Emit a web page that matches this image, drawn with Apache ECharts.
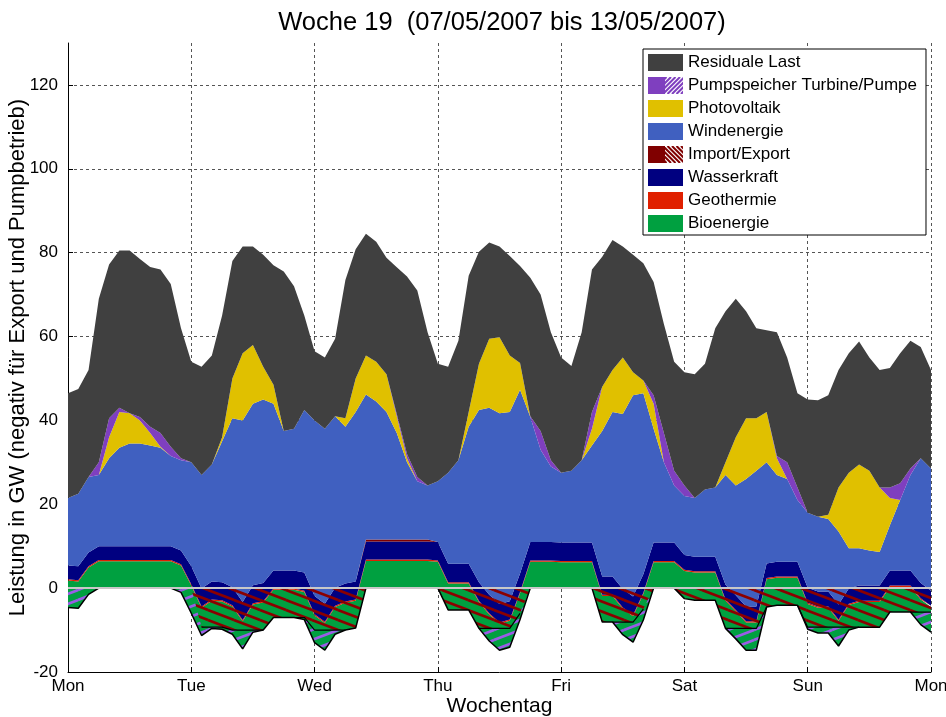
<!DOCTYPE html>
<html><head><meta charset="utf-8">
<script src="https://cdn.jsdelivr.net/npm/echarts@6/dist/echarts.min.js"></script>
<style>html,body{margin:0;padding:0;background:#fff}#c{width:946px;height:717px}</style>
</head><body><div id="c"></div>
<script>
const titleText = 'Woche 19  (07/05/2007 bis 13/05/2007)';
const dayLabels = ['Mon','Tue','Wed','Thu','Fri','Sat','Sun','Mon'];
const hours = [0,2,4,6,8,10,12,14,16,18,20,22,
  24,26,28,30,32,34,36,38,40,42,44,46,
  48,50,52,54,56,58,60,62,64,66,68,70,
  72,74,76,78,80,82,84,86,88,90,92,94,
  96,98,100,102,104,106,108,110,112,114,116,118,
  120,122,124,126,128,130,132,134,136,138,140,142,
  144,146,148,150,152,154,156,158,160,162,164,166,168];

const bioenergie = [6.4,6.4,6.4,6.4,6.4,6.4,6.4,6.4,6.4,6.4,6.4,6.4,
  6.6,6.6,6.6,6.6,6.6,6.6,6.6,6.6,6.6,6.6,6.6,6.6,
  6.5,6.5,6.5,6.5,6.5,6.5,6.5,6.5,6.5,6.5,6.5,6.5,
  6.3,6.3,6.3,6.3,6.3,6.3,6.3,6.3,6.3,6.3,6.3,6.3,
  6.2,6.2,6.2,6.2,6.2,6.2,6.2,6.2,6.2,6.2,6.2,6.2,
  6.6,6.6,6.6,6.6,6.6,6.6,6.6,6.6,6.6,6.6,6.6,6.6,
  6.0,6.0,6.0,6.0,6.0,6.0,6.0,6.0,6.0,6.0,6.0,6.0,6.0];
const geothermie = [0.3,0.3,0.3,0.3,0.3,0.3,0.3,0.3,0.3,0.3,0.3,0.3,
  0.3,0.3,0.3,0.3,0.3,0.3,0.3,0.3,0.3,0.3,0.3,0.3,
  0.3,0.3,0.3,0.3,0.3,0.3,0.3,0.3,0.3,0.3,0.3,0.3,
  0.3,0.3,0.3,0.3,0.3,0.3,0.3,0.3,0.3,0.3,0.3,0.3,
  0.3,0.3,0.3,0.3,0.3,0.3,0.3,0.3,0.3,0.3,0.3,0.3,
  0.3,0.3,0.3,0.3,0.3,0.3,0.3,0.3,0.3,0.3,0.3,0.3,
  0.3,0.3,0.3,0.3,0.3,0.3,0.3,0.3,0.3,0.3,0.3,0.3,0.3];
const wasserkraft = [3.3,3.3,3.3,3.3,3.3,3.3,3.3,3.3,3.3,3.3,3.3,3.3,
  4.3,4.3,4.3,4.3,4.3,4.3,4.3,4.3,4.3,4.3,4.3,4.3,
  4.3,4.3,4.3,4.3,4.3,4.3,4.3,4.3,4.3,4.3,4.3,4.3,
  4.4,4.4,4.4,4.4,4.4,4.4,4.4,4.4,4.4,4.4,4.4,4.4,
  4.4,4.4,4.4,4.4,4.4,4.4,4.4,4.4,4.4,4.4,4.4,4.4,
  3.5,3.5,3.5,3.5,3.5,3.5,3.5,3.5,3.5,3.5,3.5,3.5,
  3.6,3.6,3.6,3.6,3.6,3.6,3.6,3.6,3.6,3.6,3.6,3.6,3.6];
const importPos = [0,0,0,0,0,0,0,0,0,0,0,0,
  0,0,0,0,0,0,0,0,0,0,0,0,
  0,0,0,0,0,0.5,0.5,0.5,0.5,0.5,0.5,0.5,
  0,0,0,0,0,0,0,0,0,0,0,0,
  0,0,0,0,0,0,0,0,0,0,0,0,
  0,0,0,0,0,0,0,0,0,0,0,0,
  0,0,0,0,0,0,0,0,0,0,0,0,0];
const windenergie = [16.1,17.3,18.0,17.0,21.0,23.5,24.5,24.5,24.0,23.5,21.5,21.5,
  24.8,27.1,27.9,33.6,40.3,43.3,43.3,43.8,39.8,33.3,33.8,38.8,
  41.9,41.7,40.9,37.4,40.4,34.6,32.9,30.4,25.4,18.4,13.9,12.9,
  14.5,21.7,24.7,32.7,41.1,44.6,45.5,45.1,43.8,29.8,22.0,18.0,
  16.6,17.1,19.6,23.1,34.7,39.2,41.7,48.0,43.2,27.1,19.1,13.6,
  14.1,14.0,16.0,16.5,26.2,26.2,30.4,32.4,24.1,20.7,19.7,14.7,
  17.9,17.8,17.3,17.4,9.6,8.9,8.4,8.0,10.8,16.8,22.8,29.8,29.1];
const photovoltaik = [0,0,0,0,5,8.5,7.2,5.5,3,0.2,0,0,
  0,0,0,1,9.5,16,14,7.8,4.5,0,0,0,
  0,0,0,2,8,9.3,9.5,9,4,1,0,0,
  0,0,0,3.5,11,16.5,18.1,13.5,6.4,0,0,0,
  0,0,0,4,10.5,10,13.5,5.5,3,6,0,0,
  0,0,0,0,3,11.5,14.5,12.5,12,4,0,0,
  0,0,1,10.5,18,20,19,15.4,6.5,0,0,0,0];
const pumpTurbine = [0,0,0,3,4.5,1,0,0.8,1.5,3.3,2.2,0.5,
  0,0,0,0,0,0,0,0,0,0,0,0,
  0,0,0,0,0,0,0,0,0.5,1,1,0,
  0,0,0,0,0,0,0,0,0,0.2,4.5,1.5,
  0,0,0,4,0,0,0,0,0,2,7,3.5,
  2.5,0,0,0,0,0,0,0,0,0.5,4,3,
  0,0,0,0,0,0,0,0,2.5,4,1.5,0,0];
const residualeLast = [25.0,25.0,25.5,39.0,36.7,37.5,38.8,37.7,38.1,39.0,38.8,31.0,
  24.0,25.8,26.0,29.0,28.0,25.5,23.5,26.7,28.5,38.0,34.0,22.5,
  16.5,17.0,18.5,33.0,30.8,29.0,28.6,27.8,35.0,42.3,44.5,36.5,
  28.0,25.3,28.5,32.5,26.7,22.9,21.7,23.7,23.1,33.0,32.5,30.5,
  27.5,25.0,30.5,34.0,31.0,31.0,26.5,28.0,28.0,27.0,26.0,26.0,
  27.0,29.5,30.0,38.0,36.0,33.0,25.5,21.5,19.5,29.5,25.0,22.5,
  27.0,27.8,28.5,28.0,28.5,29.3,27.0,28.0,28.5,31.0,30.5,26.5,23.5];
// negative side (magnitudes): export and pumping
const exportNeg = [0,0,0,0,0,0,0,0,0,0,0,0,
  0,9.3,9.3,9.3,10,10,10,10,7,7,7,7,
  10,10,10,10,9.5,0,0,0,0,0,0,0,
  0,5.2,5.2,5.2,9.6,9.6,9.6,9.6,6,0,0,0,
  0,0,0,0,8.1,8.1,8.1,8.1,5,0,0,0,
  2.5,2.9,2.9,2.9,9.6,9.6,9.6,9.6,4.5,4.1,4.1,4.1,
  9.3,9.3,9.3,9.3,9.3,9.3,9.3,9.3,5.7,5.7,5.7,5.7,5.7];
const pumpNeg = [4.6,4.8,1.5,0,0,0,0,0,0,0,0,1,
  6,2,0.3,0.5,1,4.5,0.5,0,0,0,0,0.5,
  3,4.8,1,0,0,0,0,0,0,0,0,0,
  0,0,0,0,0,3,5.2,4.5,1.5,0,0,0,
  0,0,0,0,0,0,3,4.8,2.6,0,0,0,
  0,0,0,0,0,2.5,5.2,5.2,0,0,0,0,
  0.5,1.4,1.4,4.5,0.7,0,0,0,0,0,0,3,4.8];

const C = {
  res:'#404040', pump:'#7F3FBF', pv:'#E0C000', wind:'#4060C0',
  imp:'#800000', wasser:'#000080', geo:'#E02000', bio:'#00A040'
};
const FONT = '"Liberation Sans", Arial, sans-serif';

function hatchCanvas(color, dir, lw) {
  const W = 26, H = 10;
  const c = document.createElement('canvas'); c.width = W; c.height = H;
  const g = c.getContext('2d');
  g.strokeStyle = color; g.lineWidth = lw; g.lineCap = 'butt';
  for (let ox = -W; ox <= W; ox += W) for (let oy = -H; oy <= H; oy += H) {
    g.beginPath();
    if (dir === 'back') { g.moveTo(ox, oy); g.lineTo(ox + W, oy + H); }
    else { g.moveTo(ox, oy + H); g.lineTo(ox + W, oy); }
    g.stroke();
  }
  return c;
}
function legendIcon(color, dir) {
  const c = document.createElement('canvas'); c.width = 35; c.height = 17;
  const g = c.getContext('2d');
  g.fillStyle = color; g.fillRect(0, 0, 17, 17);
  g.fillStyle = '#fff'; g.fillRect(17, 0, 18, 17);
  g.save(); g.beginPath(); g.rect(17, 0, 18, 17); g.clip();
  g.strokeStyle = color; g.lineWidth = 2;
  for (let k = -20; k < 40; k += 4.5) {
    g.beginPath();
    if (dir === 'back') { g.moveTo(17 + k, 0); g.lineTo(17 + k + 17, 17); }
    else { g.moveTo(17 + k, 17); g.lineTo(17 + k + 17, 0); }
    g.stroke();
  }
  g.restore();
  return 'image://' + c.toDataURL();
}

const categories = hours.map(String);
const n = hours.length;
const baseVals = hours.map((h, i) => -(exportNeg[i] + pumpNeg[i]));
const totNeg = hours.map((h, i) => exportNeg[i] + pumpNeg[i]);
const outline = hours.map((h, i) => {
  const on = totNeg[i] > 0 || (i > 0 && totNeg[i-1] > 0) || (i < n-1 && totNeg[i+1] > 0);
  return on ? -totNeg[i] : null;
});
const bnd = hours.map((h, i) => {
  const p = pumpNeg[i] > 0 || (i > 0 && pumpNeg[i-1] > 0) || (i < n-1 && pumpNeg[i+1] > 0);
  return (exportNeg[i] > 0 && p) ? -exportNeg[i] : null;
});

function posArea(name, arr, color) {
  return {
    name, type: 'line', stack: 'pos', stackStrategy: 'all', data: arr.slice(),
    symbol: 'none', showSymbol: false, lineStyle: { width: 0, color }, itemStyle: { color },
    areaStyle: { color, opacity: 1 }, silent: true, z: 2
  };
}

const series = [
  { name: '_base', type: 'line', stack: 'pos', stackStrategy: 'all', data: baseVals,
    symbol: 'none', lineStyle: { width: 0, opacity: 0 }, silent: true, z: 2 },
  posArea('Bioenergie', bioenergie, C.bio),
  posArea('Geothermie', geothermie, C.geo),
  posArea('Wasserkraft', wasserkraft, C.wasser),
  posArea('Import/Export', importPos, C.imp),
  posArea('Windenergie', windenergie, C.wind),
  posArea('Photovoltaik', photovoltaik, C.pv),
  posArea('Pumpspeicher Turbine/Pumpe', pumpTurbine, C.pump),
  posArea('Residuale Last', residualeLast, C.res),
  { name: 'Import/Export', type: 'line', stack: 'neg', data: exportNeg.map(v => -v),
    symbol: 'none', lineStyle: { width: 0 }, itemStyle: { color: C.imp },
    areaStyle: { color: { image: hatchCanvas('#8B0000', 'back', 2.6), repeat: 'repeat' }, opacity: 1 },
    silent: true, z: 3 },
  { name: 'Pumpspeicher Turbine/Pumpe', type: 'line', stack: 'neg', data: pumpNeg.map(v => -v),
    symbol: 'none', lineStyle: { width: 0 }, itemStyle: { color: C.pump },
    areaStyle: { color: { image: hatchCanvas('#9A5CE6', 'fwd', 2.6), repeat: 'repeat' }, opacity: 1 },
    silent: true, z: 3 },
  { name: '_bnd', type: 'line', data: bnd, symbol: 'none', connectNulls: false,
    lineStyle: { color: '#000', width: 1.2 }, silent: true, z: 4 },
  { name: '_outline', type: 'line', data: outline, symbol: 'none', connectNulls: false,
    lineStyle: { color: '#000', width: 1.5 }, silent: true, z: 4,
    markLine: { silent: true, symbol: 'none', label: { show: false },
      lineStyle: { color: '#c8c8c8', width: 2, type: 'solid' }, data: [{ yAxis: 0 }] } }
];

const chart = echarts.init(document.getElementById('c'), null, { renderer: 'canvas' });
chart.setOption({
  animation: false,
  backgroundColor: '#fff',
  textStyle: { fontFamily: FONT },
  title: { text: titleText, left: 497, top: 5, textAlign: 'center',
    textStyle: { fontFamily: FONT, fontSize: 25.5, fontWeight: 'normal', color: '#000' } },
  grid: { left: 68, right: 15, top: 43, bottom: 45, containLabel: false, outerBoundsMode: 'none' },
  legend: {
    orient: 'vertical', left: 643, top: 49, padding: [5, 9, 3, 5],
    itemWidth: 35, itemHeight: 17, itemGap: 6, icon: 'rect',
    backgroundColor: '#fff', borderColor: '#000', borderWidth: 1, borderRadius: 0,
    textStyle: { fontFamily: FONT, fontSize: 17, color: '#000' },
    selectedMode: false,
    data: [
      { name: 'Residuale Last' },
      { name: 'Pumpspeicher Turbine/Pumpe', icon: legendIcon(C.pump, 'fwd') },
      { name: 'Photovoltaik' },
      { name: 'Windenergie' },
      { name: 'Import/Export', icon: legendIcon(C.imp, 'back') },
      { name: 'Wasserkraft' },
      { name: 'Geothermie' },
      { name: 'Bioenergie' }
    ]
  },
  xAxis: {
    type: 'category', data: categories, boundaryGap: false,
    name: 'Wochentag', nameLocation: 'middle', nameGap: 24, nameMoveOverlap: false,
    nameTextStyle: { fontFamily: FONT, fontSize: 21, color: '#000' },
    axisLine: { onZero: false, lineStyle: { color: '#000', width: 1 } },
    axisTick: { inside: true, length: 5, interval: 11, lineStyle: { color: '#000' } },
    axisLabel: { fontFamily: FONT, fontSize: 17, color: '#000', margin: 6, interval: 11,
      formatter: v => dayLabels[Math.round(Number(v) / 24)] },
    splitLine: { show: true, interval: 11, lineStyle: { color: '#555', type: [3, 3], width: 1 } }
  },
  yAxis: {
    type: 'value', min: -20, max: 130, interval: 20,
    name: 'Leistung in GW (negativ für Export und Pumpbetrieb)', nameLocation: 'middle', nameGap: 39,
    nameMoveOverlap: false, nameRotate: 90,
    nameTextStyle: { fontFamily: FONT, fontSize: 22, color: '#000' },
    axisLine: { show: true, lineStyle: { color: '#000', width: 1 } },
    axisTick: { show: true, inside: true, length: 5, lineStyle: { color: '#000' } },
    axisLabel: { fontFamily: FONT, fontSize: 17, color: '#000', margin: 10, showMaxLabel: false },
    splitLine: { show: true, showMaxLine: false, lineStyle: { color: '#555', type: [3, 3], width: 1 } }
  },
  series
});
</script>
</body></html>
